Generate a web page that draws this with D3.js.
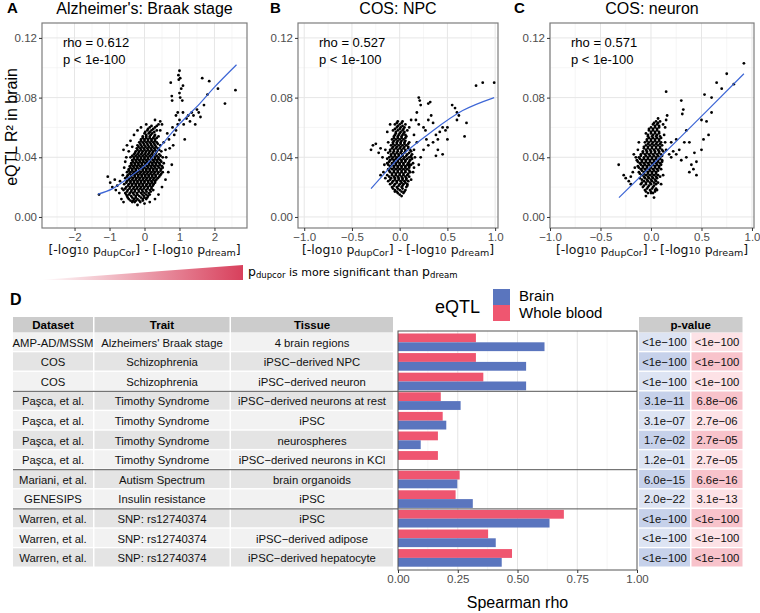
<!DOCTYPE html>
<html><head><meta charset="utf-8">
<script src="https://cdn.jsdelivr.net/npm/d3@7"></script>
<style>body{margin:0;background:#fff}svg{display:block}</style>
</head><body><svg id="c" width="760" height="613"></svg>
<script>
// ---------- DATA ----------
// Scatter panels: dense core given as rows [y, x1, x2, ...]; outliers as [x, y]
const coreA = [
 [0.010,-0.35,-0.28,-0.12],
 [0.012,-0.45,-0.3,-0.2,-0.05,0.05],
 [0.014,-0.5,-0.38,-0.25,-0.15,-0.02,0.1],
 [0.016,-0.55,-0.42,-0.33,-0.22,-0.1,0.0,0.12],
 [0.018,-0.6,-0.48,-0.37,-0.27,-0.17,-0.07,0.04,0.15],
 [0.020,-0.52,-0.41,-0.3,-0.2,-0.1,0.0,0.1,0.2],
 [0.022,-0.58,-0.45,-0.35,-0.25,-0.15,-0.05,0.06,0.16,0.26],
 [0.024,-0.5,-0.4,-0.3,-0.2,-0.1,0.0,0.1,0.2,0.3],
 [0.026,-0.55,-0.43,-0.33,-0.23,-0.13,-0.03,0.07,0.17,0.27,0.38],
 [0.028,-0.48,-0.38,-0.28,-0.18,-0.08,0.02,0.12,0.22,0.32,0.45],
 [0.030,-0.5,-0.4,-0.3,-0.2,-0.1,0.0,0.1,0.2,0.3,0.4,0.52],
 [0.032,-0.45,-0.35,-0.25,-0.15,-0.05,0.05,0.15,0.25,0.35,0.47],
 [0.034,-0.42,-0.32,-0.22,-0.12,-0.02,0.08,0.18,0.28,0.38,0.5],
 [0.036,-0.38,-0.28,-0.18,-0.08,0.02,0.12,0.22,0.32,0.42,0.55],
 [0.038,-0.35,-0.25,-0.15,-0.05,0.05,0.15,0.25,0.35,0.45],
 [0.040,-0.4,-0.3,-0.2,-0.1,0.0,0.1,0.2,0.3,0.4,0.52],
 [0.042,-0.3,-0.2,-0.1,0.0,0.1,0.2,0.3,0.42],
 [0.044,-0.25,-0.15,-0.05,0.05,0.15,0.25,0.35,0.48],
 [0.046,-0.22,-0.12,-0.02,0.08,0.18,0.28,0.38],
 [0.048,-0.2,-0.1,0.0,0.1,0.2,0.3,0.45],
 [0.050,-0.15,-0.05,0.05,0.15,0.25,0.35],
 [0.052,-0.1,0.0,0.1,0.2,0.3],
 [0.054,-0.05,0.05,0.15,0.28,0.4],
 [0.056,0.0,0.12,0.22],
 [0.058,0.08,0.2,0.35],
 [0.060,0.15,0.3],
 [0.062,0.4],
 [0.064,0.45]
];
const coreA2 = [
 [0.011,-0.4,-0.32,-0.24,-0.15,-0.05],
 [0.013,-0.48,-0.35,-0.25,-0.1,0.0,0.08],
 [0.015,-0.52,-0.44,-0.3,-0.2,-0.06,0.05,0.15],
 [0.017,-0.5,-0.38,-0.28,-0.16,-0.05,0.06,0.18],
 [0.019,-0.55,-0.43,-0.32,-0.22,-0.12,-0.02,0.09,0.2],
 [0.021,-0.47,-0.36,-0.25,-0.15,-0.05,0.05,0.15,0.24],
 [0.023,-0.52,-0.4,-0.3,-0.2,-0.1,0.0,0.11,0.21,0.3],
 [0.025,-0.45,-0.35,-0.25,-0.15,-0.05,0.05,0.15,0.25,0.34],
 [0.027,-0.5,-0.38,-0.28,-0.18,-0.08,0.02,0.12,0.22,0.32,0.42],
 [0.029,-0.43,-0.33,-0.23,-0.13,-0.03,0.07,0.17,0.27,0.38,0.48],
 [0.031,-0.45,-0.35,-0.25,-0.15,-0.05,0.05,0.15,0.25,0.35,0.46],
 [0.033,-0.4,-0.3,-0.2,-0.1,0.0,0.1,0.2,0.3,0.42,0.52],
 [0.035,-0.37,-0.27,-0.17,-0.07,0.03,0.13,0.23,0.33,0.44],
 [0.037,-0.33,-0.23,-0.13,-0.03,0.07,0.17,0.27,0.37,0.48],
 [0.039,-0.3,-0.2,-0.1,0.0,0.1,0.2,0.3,0.4],
 [0.041,-0.35,-0.25,-0.15,-0.05,0.05,0.15,0.25,0.35,0.46],
 [0.043,-0.27,-0.17,-0.07,0.03,0.13,0.23,0.33],
 [0.045,-0.2,-0.1,0.0,0.1,0.2,0.3,0.42],
 [0.047,-0.17,-0.07,0.03,0.13,0.23,0.33],
 [0.049,-0.12,-0.02,0.08,0.18,0.28,0.38],
 [0.051,-0.1,0.0,0.1,0.2,0.3],
 [0.053,-0.05,0.05,0.15,0.25,0.35],
 [0.055,0.05,0.18,0.3],
 [0.057,0.02,0.15,0.28],
 [0.059,0.1,0.25],
 [0.061,0.2,0.35]
];
const outA = [[-1.3,.015],[-1.05,.027],[-0.98,.023],[-0.92,.02],[-0.85,.025],[-0.82,.018],[-0.78,.021],[-0.72,.016],[-0.7,.024],[-0.66,.012],[-0.64,.019],[-0.62,.028],[-0.6,.01],[-0.58,.033],[-0.55,.037],[-0.6,.045],[-0.52,.04],[-0.5,.048],[-0.45,.044],[-0.4,.051],[-0.35,.047],[-0.3,.055],[-0.2,.058],[-0.1,.06],[0.05,.062],[0.3,.065],[0.45,.058],[0.5,.062],[0.55,.05],[0.6,.045],[0.62,.04],[0.65,.056],[0.7,.052],[0.72,.046],[0.8,.06],[0.85,.055],[0.82,.048],[0.9,.058],[0.95,.062],[0.78,.035],[0.68,.03],[0.6,.025],[0.5,.02],[0.4,.015],[0.3,.012],[0.25,.018],[-0.2,.008],[0.0,.009],[0.15,.01],
 [0.75,.09],[0.78,.081],[0.79,.078],[0.98,.092],[1.0,.098],[0.97,.095],[1.02,.093],[1.0,.083],[1.05,.086],[1.08,.078],[1.1,.088],[1.02,.08],[1.15,.052],[1.12,.062],[1.2,.066],[1.25,.068],[1.3,.064],[1.35,.07],[1.4,.068],[1.5,.072],[1.55,.07],[1.6,.067],[1.65,.093],[1.7,.075],[1.8,.082],[1.85,.091],[2.1,.086],[2.3,.076],[2.6,.085],[1.45,.062],[1.1,.07],[1.0,.065],[0.95,.07],[0.9,.068]];
const loessA = [[-1.33,.0153],[-0.91,.019],[-0.3,.029],[0.08,.0358],[0.45,.047],[1.01,.0625],[1.58,.076],[2.0,.087],[2.63,.102]];

const coreB = [
 [0.016,-0.02,0.04],
 [0.018,-0.05,0.0,0.06],
 [0.020,-0.08,-0.03,0.02,0.07],
 [0.022,-0.1,-0.05,0.0,0.04],
 [0.024,-0.12,-0.07,-0.03,0.01,0.05,0.09],
 [0.026,-0.09,-0.05,-0.01,0.03,0.07],
 [0.028,-0.13,-0.08,-0.04,0.0,0.04,0.08],
 [0.030,-0.1,-0.06,-0.02,0.02,0.06,0.11],
 [0.032,-0.12,-0.08,-0.04,0.0,0.04,0.08],
 [0.034,-0.1,-0.06,-0.02,0.02,0.06,0.1],
 [0.036,-0.13,-0.08,-0.04,0.0,0.04,0.09,0.14],
 [0.038,-0.1,-0.06,-0.02,0.02,0.06,0.11],
 [0.040,-0.11,-0.07,-0.03,0.01,0.05,0.1,0.16],
 [0.042,-0.09,-0.05,-0.01,0.03,0.08,0.13],
 [0.044,-0.1,-0.06,-0.02,0.02,0.06,0.12],
 [0.046,-0.08,-0.04,0.0,0.04,0.09],
 [0.048,-0.09,-0.05,-0.01,0.03,0.07],
 [0.050,-0.07,-0.03,0.01,0.05,0.1],
 [0.052,-0.08,-0.04,0.0,0.04],
 [0.054,-0.06,-0.02,0.02,0.07],
 [0.056,-0.04,0.0,0.04],
 [0.058,-0.07,-0.02,0.03,0.08],
 [0.060,-0.03,0.01,0.05],
 [0.062,-0.05,0.0,0.06],
 [0.064,-0.02,0.03]
];
const coreB2 = [
 [0.017,-0.03,0.02],
 [0.019,-0.07,-0.02,0.03],
 [0.021,-0.06,-0.01,0.03,0.08],
 [0.023,-0.08,-0.03,0.02,0.06],
 [0.025,-0.1,-0.05,-0.01,0.03,0.07],
 [0.027,-0.11,-0.06,-0.02,0.02,0.06,0.1],
 [0.029,-0.08,-0.04,0.0,0.04,0.09],
 [0.031,-0.11,-0.06,-0.02,0.02,0.06,0.1],
 [0.033,-0.1,-0.06,-0.02,0.02,0.06,0.1],
 [0.035,-0.12,-0.08,-0.04,0.0,0.04,0.08,0.12],
 [0.037,-0.11,-0.06,-0.02,0.02,0.06,0.1],
 [0.039,-0.13,-0.08,-0.04,0.0,0.04,0.08,0.13],
 [0.041,-0.09,-0.05,-0.01,0.03,0.07,0.12],
 [0.043,-0.12,-0.07,-0.03,0.01,0.05,0.1],
 [0.045,-0.1,-0.06,-0.02,0.02,0.06,0.11],
 [0.047,-0.07,-0.03,0.01,0.05,0.09],
 [0.049,-0.07,-0.03,0.01,0.05,0.09],
 [0.051,-0.06,-0.02,0.02,0.06],
 [0.053,-0.06,-0.02,0.02,0.06],
 [0.055,-0.05,-0.01,0.03,0.06],
 [0.057,-0.04,0.01,0.05],
 [0.059,-0.05,0.0,0.04],
 [0.061,-0.02,0.03],
 [0.063,-0.03,0.02]
];
const outB = [[-0.3,.045],[-0.28,.048],[-0.25,.049],[-0.22,.043],[-0.2,.046],[-0.18,.04],[-0.16,.035],[-0.17,.03],[-0.15,.026],[-0.2,.028],[-0.15,.045],[-0.12,.05],[-0.13,.057],[-0.1,.062],[-0.05,.017],[0.0,.015],[0.02,.014],[0.05,.017],[0.08,.022],[0.12,.025],[0.14,.03],[0.15,.033],[0.12,.065],[0.1,.06],[0.15,.055],[0.18,.05],[0.15,.045],[0.2,.08],[0.21,.078],[0.22,.075],[0.25,.06],[0.2,.062],[0.27,.058],[0.3,.076],[0.32,.077],[0.3,.065],[0.33,.068],[0.35,.063],[0.28,.052],[0.3,.048],[0.25,.045],[0.22,.04],[0.2,.035],[0.38,.055],[0.4,.052],[0.42,.057],[0.45,.06],[0.48,.058],[0.5,.06],[0.4,.045],[0.45,.042],[0.38,.041],[0.55,.075],[0.58,.073],[0.6,.07],[0.62,.068],[0.6,.065],[0.7,.063],[0.68,.054],[0.8,.088],[0.87,.09],[0.99,.09],[0.5,.052],[0.35,.05],[0.18,.07],[0.17,.065],[0.12,.04],[0.1,.035]];
const loessB = [[-0.3,.019],[-0.15,.0297],[0,.040],[0.31,.056],[0.66,.0713],[0.99,.080]];

const coreC = [
 [0.016,-0.03,0.02],
 [0.018,-0.06,-0.01,0.04],
 [0.020,-0.08,-0.03,0.02],
 [0.022,-0.1,-0.05,0.0,0.05],
 [0.024,-0.07,-0.03,0.01,0.05],
 [0.026,-0.11,-0.06,-0.02,0.02,0.06],
 [0.028,-0.09,-0.05,-0.01,0.03,0.07],
 [0.030,-0.12,-0.07,-0.03,0.01,0.05],
 [0.032,-0.1,-0.06,-0.02,0.02,0.06,0.1],
 [0.034,-0.13,-0.08,-0.04,0.0,0.04,0.08],
 [0.036,-0.11,-0.07,-0.03,0.01,0.05,0.09],
 [0.038,-0.14,-0.09,-0.05,-0.01,0.03,0.07,0.11],
 [0.040,-0.12,-0.07,-0.03,0.01,0.05,0.09],
 [0.042,-0.1,-0.06,-0.02,0.02,0.06,0.1],
 [0.044,-0.08,-0.04,0.0,0.04,0.08,0.12],
 [0.046,-0.07,-0.03,0.01,0.05,0.09],
 [0.048,-0.05,-0.01,0.03,0.07,0.11],
 [0.050,-0.06,-0.02,0.02,0.06,0.1],
 [0.052,-0.04,0.0,0.04,0.08],
 [0.054,-0.03,0.01,0.05,0.09],
 [0.056,-0.05,0.0,0.04,0.08],
 [0.058,-0.02,0.02,0.06],
 [0.060,0.0,0.04,0.08],
 [0.062,0.02,0.06],
 [0.064,0.05,0.09],
 [0.066,0.07]
];
const coreC2 = [
 [0.017,-0.05,0.0,0.04],
 [0.019,-0.04,0.01,0.05],
 [0.021,-0.07,-0.02,0.03],
 [0.023,-0.09,-0.05,-0.01,0.03,0.07],
 [0.025,-0.09,-0.04,0.0,0.04],
 [0.027,-0.07,-0.03,0.01,0.05,0.09],
 [0.029,-0.11,-0.07,-0.03,0.01,0.05],
 [0.031,-0.09,-0.05,-0.01,0.03,0.07],
 [0.033,-0.12,-0.08,-0.04,0.0,0.04,0.08],
 [0.035,-0.1,-0.06,-0.02,0.02,0.06,0.1],
 [0.037,-0.13,-0.09,-0.05,-0.01,0.03,0.07,0.11],
 [0.039,-0.11,-0.07,-0.03,0.01,0.05,0.09],
 [0.041,-0.1,-0.05,-0.01,0.03,0.07,0.11],
 [0.043,-0.08,-0.04,0.0,0.04,0.08],
 [0.045,-0.05,-0.01,0.03,0.07,0.11],
 [0.047,-0.07,-0.03,0.01,0.05,0.09],
 [0.049,-0.03,0.01,0.05,0.09],
 [0.051,-0.04,0.0,0.04,0.08],
 [0.053,-0.02,0.02,0.06,0.1],
 [0.055,-0.03,0.02,0.06],
 [0.057,0.0,0.04,0.08],
 [0.059,-0.02,0.02,0.06],
 [0.061,0.04,0.08],
 [0.063,0.03,0.07]
];
const outC = [[-0.32,.035],[-0.27,.028],[-0.25,.026],[-0.22,.024],[-0.2,.027],[-0.18,.03],[-0.16,.033],[-0.2,.022],[-0.15,.04],[-0.17,.042],[-0.13,.045],[-0.12,.05],[-0.05,.014],[0.0,.016],[0.03,.013],[0.06,.018],[0.1,.022],[0.12,.028],[0.13,.055],[0.14,.06],[0.15,.065],[0.16,.068],[0.15,.084],[0.12,.062],[0.14,.05],[0.15,.045],[0.18,.042],[0.2,.04],[0.22,.044],[0.25,.042],[0.28,.045],[0.3,.038],[0.3,.078],[0.32,.072],[0.31,.069],[0.33,.05],[0.35,.058],[0.38,.05],[0.35,.04],[0.4,.035],[0.38,.03],[0.42,.032],[0.45,.037],[0.43,.043],[0.5,.045],[0.52,.052],[0.55,.064],[0.5,.065],[0.57,.055],[0.53,.082],[0.6,.08],[0.6,.07],[0.65,.09],[0.7,.086],[0.75,.096],[0.82,.089],[0.92,.103],[0.25,.052],[0.2,.05],[0.45,.028]];
const loessC = [[-0.317,.013],[0.3,.054],[0.92,.096]];

const yTicksScatter = [0, 0.04, 0.08, 0.12];
const xTicksA = [-2, -1, 0, 1, 2];
const xTicksBC = [-1, -0.5, 0, 0.5, 1];
const rhoLabels = ["rho = 0.612", "rho = 0.527", "rho = 0.571"];
const pLabel = "p < 1e-100";
const panelTitles = ["Alzheimer's: Braak stage", "COS: NPC", "COS: neuron"];

// Panel D table + bars
const datasets = ["AMP-AD/MSSM","COS","COS","Paşca, et al.","Paşca, et al.","Paşca, et al.","Paşca, et al.","Mariani, et al.","GENESIPS","Warren, et al.","Warren, et al.","Warren, et al."];
const traits = ["Alzheimers' Braak stage","Schizophrenia","Schizophrenia","Timothy Syndrome","Timothy Syndrome","Timothy Syndrome","Timothy Syndrome","Autism Spectrum","Insulin resistance","SNP: rs12740374","SNP: rs12740374","SNP: rs12740374"];
const tissues = ["4 brain regions","iPSC−derived NPC","iPSC−derived neuron","iPSC−derived neurons at rest","iPSC","neurospheres","iPSC−derived neurons in KCl","brain organoids","iPSC","iPSC","iPSC−derived adipose","iPSC−derived hepatocyte"];
const brainRho = [0.613,0.536,0.536,0.262,0.202,0.095,0.0,0.248,0.313,0.634,0.409,0.434];
const bloodRho = [0.326,0.326,0.357,0.179,0.187,0.167,0.167,0.258,0.241,0.694,0.377,0.477];
const brainP = ["<1e−100","<1e−100","<1e−100","3.1e−11","3.1e−07","1.7e−02","1.2e−01","6.0e−15","2.0e−22","<1e−100","<1e−100","<1e−100"];
const bloodP = ["<1e−100","<1e−100","<1e−100","6.8e−06","2.7e−06","2.7e−05","2.7e−05","6.6e−16","3.1e−13","<1e−100","<1e−100","<1e−100"];
const groupEnds = [2, 6, 8];
const barTicks = [0, 0.25, 0.5, 0.75, 1];
const tissueSeries = ["Whole blood", "Brain"];

// ---------- STYLE ----------
const HEL = "Liberation Sans, Arial, Helvetica, sans-serif";
const DJV = "DejaVu Sans, Verdana, sans-serif";
const BLUE = "#5a75be", RED = "#ef5670";
const svg = d3.select("#c");

// ---------- SCATTER PANELS ----------
const PTOP = 23, PBOT = 228;
const yS = d3.scaleLinear().domain([-0.0074, 0.130]).range([PBOT, PTOP]);
function expand(rows){ const out=[]; rows.forEach(r=>{ for(let i=1;i<r.length;i++) out.push([r[i], r[0]]); }); return out; }

function scatter(cfg){
  const g = svg.append("g");
  const x = d3.scaleLinear().domain(cfg.dom).range([cfg.x0, cfg.x1]);
  const t = PTOP, b = PBOT;
  cfg.minor.forEach(v=>g.append("line").attr("x1",x(v)).attr("x2",x(v)).attr("y1",t).attr("y2",b).attr("stroke","#f0f0f0").attr("stroke-width",0.6));
  [0.02,0.06,0.10].forEach(v=>g.append("line").attr("x1",cfg.x0).attr("x2",cfg.x1).attr("y1",yS(v)).attr("y2",yS(v)).attr("stroke","#f0f0f0").attr("stroke-width",0.6));
  cfg.ticks.forEach(v=>g.append("line").attr("x1",x(v)).attr("x2",x(v)).attr("y1",t).attr("y2",b).attr("stroke","#e6e6e6").attr("stroke-width",1));
  yTicksScatter.forEach(v=>g.append("line").attr("x1",cfg.x0).attr("x2",cfg.x1).attr("y1",yS(v)).attr("y2",yS(v)).attr("stroke","#e6e6e6").attr("stroke-width",1));
  const pts = cfg.out.concat(expand(cfg.core), expand(cfg.core2));
  g.append("g").selectAll("circle").data(pts).join("circle")
    .attr("cx",d=>x(d[0])).attr("cy",d=>yS(d[1])).attr("r",1.4).attr("fill","#000");
  g.append("path").datum(cfg.loess)
    .attr("d", d3.line().x(d=>x(d[0])).y(d=>yS(d[1])).curve(d3.curveCatmullRom))
    .attr("fill","none").attr("stroke","#3d66d6").attr("stroke-width",1.2);
  g.append("rect").attr("x",cfg.x0).attr("y",t).attr("width",cfg.x1-cfg.x0).attr("height",b-t)
    .attr("fill","none").attr("stroke","#7d7d7d").attr("stroke-width",1.2);
  const ax = g.append("g").attr("transform",`translate(0,${b})`)
    .call(d3.axisBottom(x).tickValues(cfg.ticks).tickSize(3).tickPadding(2).tickFormat(cfg.fmt));
  const ay = g.append("g").attr("transform",`translate(${cfg.x0},0)`)
    .call(d3.axisLeft(yS).tickValues(yTicksScatter).tickSize(3).tickPadding(2).tickFormat(d3.format(".2f")));
  [ax, ay].forEach(a=>{ a.select(".domain").remove(); a.selectAll("line").attr("stroke","#333");
    a.selectAll("text").attr("fill","#4d4d4d").style("font-family",HEL).style("font-size","11.5px"); });
  const cx = (cfg.x0+cfg.x1)/2;
  g.append("text").attr("x",cx).attr("y",14).attr("text-anchor","middle").style("font-family",HEL).style("font-size","16px").text(cfg.title);
  g.append("text").attr("x",cfg.lx).attr("y",13).style("font-family",HEL).style("font-weight","bold").style("font-size","15px").text(cfg.letter);
  g.append("text").attr("x",cfg.x0+21).attr("y",47).style("font-family",HEL).style("font-size","13px").text(cfg.rho);
  g.append("text").attr("x",cfg.x0+21).attr("y",64).style("font-family",HEL).style("font-size","13px").text(pLabel);
  const xl = g.append("text").attr("x",cx).attr("y",254).attr("text-anchor","middle").style("font-family",DJV).style("font-size","12.5px").attr("fill","#111");
  xl.append("tspan").text("[-log");
  xl.append("tspan").style("font-size","9.5px").text("10");
  xl.append("tspan").text(" p");
  xl.append("tspan").style("font-size","9.5px").attr("dy",1.5).text("dupCor");
  xl.append("tspan").attr("dy",-1.5).text("] - [-log");
  xl.append("tspan").style("font-size","9.5px").text("10");
  xl.append("tspan").text(" p");
  xl.append("tspan").style("font-size","9.5px").attr("dy",1.5).text("dream");
  xl.append("tspan").attr("dy",-1.5).text("]");
}
scatter({x0:42,x1:247,dom:[-2.93,2.93],ticks:xTicksA,minor:[-2.5,-1.5,-0.5,0.5,1.5,2.5],fmt:d3.format("d"),core:coreA,core2:coreA2,out:outA,loess:loessA,title:panelTitles[0],letter:"A",lx:7,rho:rhoLabels[0]});
scatter({x0:298,x1:498,dom:[-1.065,1.03],ticks:xTicksBC,minor:[-0.75,-0.25,0.25,0.75],fmt:d3.format(".1f"),core:coreB,core2:coreB2,out:outB,loess:loessB,title:panelTitles[1],letter:"B",lx:270,rho:rhoLabels[1]});
scatter({x0:550,x1:754,dom:[-1.0,1.02],ticks:xTicksBC,minor:[-0.75,-0.25,0.25,0.75],fmt:d3.format(".1f"),core:coreC,core2:coreC2,out:outC,loess:loessC,title:panelTitles[2],letter:"C",lx:514,rho:rhoLabels[2]});

svg.append("text").attr("transform","translate(17,127) rotate(-90)").attr("text-anchor","middle")
  .style("font-family",HEL).style("font-size","16px").text("eQTL R² in brain");

// gradient wedge
const defs = svg.append("defs");
const lg = defs.append("linearGradient").attr("id","wedge").attr("x1","0%").attr("x2","100%");
lg.append("stop").attr("offset","0%").attr("stop-color","#ffffff");
lg.append("stop").attr("offset","100%").attr("stop-color","#d8405c");
svg.append("polygon").attr("points","40,280 243,280 243,265").attr("fill","url(#wedge)");
const wt = svg.append("text").attr("x",248).attr("y",276).style("font-family",DJV).style("font-size","11px");
wt.append("tspan").style("font-size","12.5px").text("p");
wt.append("tspan").style("font-size","8.5px").attr("dy",2).text("dupcor");
wt.append("tspan").attr("dy",-2).text(" is more significant than ");
wt.append("tspan").style("font-size","12.5px").text("p");
wt.append("tspan").style("font-size","8.5px").attr("dy",2).text("dream");

// ---------- PANEL D ----------
svg.append("text").attr("x",10).attr("y",305).style("font-family",HEL).style("font-weight","bold").style("font-size","16px").text("D");

const idx = d3.range(datasets.length);
const yB = d3.scaleBand().domain(idx).range([332.5, 567.7]).paddingInner(0.1).paddingOuter(0.05);
const step = yB.step();
const xB = d3.scaleLinear().domain([0,1]).range([398, 637]);
const inner = d3.scaleBand().domain(tissueSeries).range([0, yB.bandwidth()]);
const PT = 331, PB = 570;

const cols = [[13,93,datasets,"Dataset"],[94.5,229.5,traits,"Trait"],[231,393,tissues,"Tissue"]];
const tg = svg.append("g");
cols.forEach(([a,b,vals,head])=>{
  tg.append("rect").attr("x",a).attr("y",317).attr("width",b-a).attr("height",15.5).attr("fill","#cccccc");
  tg.append("text").attr("x",(a+b)/2).attr("y",329).attr("text-anchor","middle").style("font-family",HEL).style("font-weight","bold").style("font-size","11.5px").text(head);
  idx.forEach(i=>{
    const y0 = yB(i) - step*0.05 + 0.2;
    tg.append("rect").attr("x",a).attr("y",y0).attr("width",b-a).attr("height",step-1.4).attr("fill", i%2===0 ? "#f2f2f2" : "#e4e4e4");
    tg.append("text").attr("x",(a+b)/2).attr("y",yB(i)+yB.bandwidth()/2+4.2).attr("text-anchor","middle").style("font-family",HEL).style("font-size","11.3px").attr("fill","#111").text(vals[i]);
  });
});

const pcols = [[639,690,brainP,["#dde4f3","#c6d1ea"]],[691.5,742.5,bloodP,["#fde2e6","#f8c3cb"]]];
svg.append("rect").attr("x",639).attr("y",317).attr("width",103.5).attr("height",15.5).attr("fill","#cccccc");
svg.append("text").attr("x",690.7).attr("y",329).attr("text-anchor","middle").style("font-family",HEL).style("font-weight","bold").style("font-size","11.5px").text("p-value");
pcols.forEach(([a,b,vals,fills])=>{
  idx.forEach(i=>{
    const y0 = yB(i) - step*0.05 + 0.2;
    svg.append("rect").attr("x",a).attr("y",y0).attr("width",b-a).attr("height",step-1.4).attr("fill",fills[i%2]);
    svg.append("text").attr("x",(a+b)/2).attr("y",yB(i)+yB.bandwidth()/2+4).attr("text-anchor","middle").style("font-family",HEL).style("font-size","11.3px").attr("fill","#111").text(vals[i]);
  });
});

const bg = svg.append("g");
[0.125,0.375,0.625,0.875].forEach(v=>bg.append("line").attr("x1",xB(v)).attr("x2",xB(v)).attr("y1",PT).attr("y2",PB).attr("stroke","#f0f0f0").attr("stroke-width",0.6));
[0.25,0.5,0.75].forEach(v=>bg.append("line").attr("x1",xB(v)).attr("x2",xB(v)).attr("y1",PT).attr("y2",PB).attr("stroke","#e4e4e4").attr("stroke-width",1));
bg.append("g").selectAll("rect").data(idx).join("rect")
  .attr("x",xB(0)).attr("y",i=>yB(i)+inner("Whole blood")).attr("height",inner.bandwidth())
  .attr("width",i=>xB(bloodRho[i])-xB(0)).attr("fill",RED);
bg.append("g").selectAll("rect").data(idx).join("rect")
  .attr("x",xB(0)).attr("y",i=>yB(i)+inner("Brain")).attr("height",inner.bandwidth())
  .attr("width",i=>xB(brainRho[i])-xB(0)).attr("fill",BLUE);
groupEnds.forEach(i=>{
  const yy = yB(i) + yB.bandwidth() + step*0.05;
  svg.append("line").attr("x1",13).attr("x2",637).attr("y1",yy).attr("y2",yy).attr("stroke","#555").attr("stroke-width",1);
});
bg.append("rect").attr("x",398).attr("y",PT).attr("width",239).attr("height",PB-PT).attr("fill","none").attr("stroke","#555").attr("stroke-width",1);
const bax = bg.append("g").attr("transform",`translate(0,${PB})`)
  .call(d3.axisBottom(xB).tickValues(barTicks).tickSize(3).tickPadding(2).tickFormat(d3.format(".2f")));
bax.select(".domain").remove();
bax.selectAll("line").attr("stroke","#333");
bax.selectAll("text").attr("fill","#4d4d4d").style("font-family",HEL).style("font-size","11.5px");
svg.append("text").attr("x",xB(0.5)).attr("y",608).attr("text-anchor","middle").style("font-family",HEL).style("font-size","16px").text("Spearman rho");

svg.append("text").attr("x",435).attr("y",313).style("font-family",HEL).style("font-size","18px").text("eQTL");
const legItems = [["Brain",BLUE,289,301],["Whole blood",RED,305,318]];
legItems.forEach(([lab,col,ry,ty])=>{
  svg.append("rect").attr("x",493).attr("y",ry).attr("width",17).attr("height",16).attr("fill",col);
  svg.append("text").attr("x",519).attr("y",ty).style("font-family",HEL).style("font-size","15px").text(lab);
});
</script></body></html>
